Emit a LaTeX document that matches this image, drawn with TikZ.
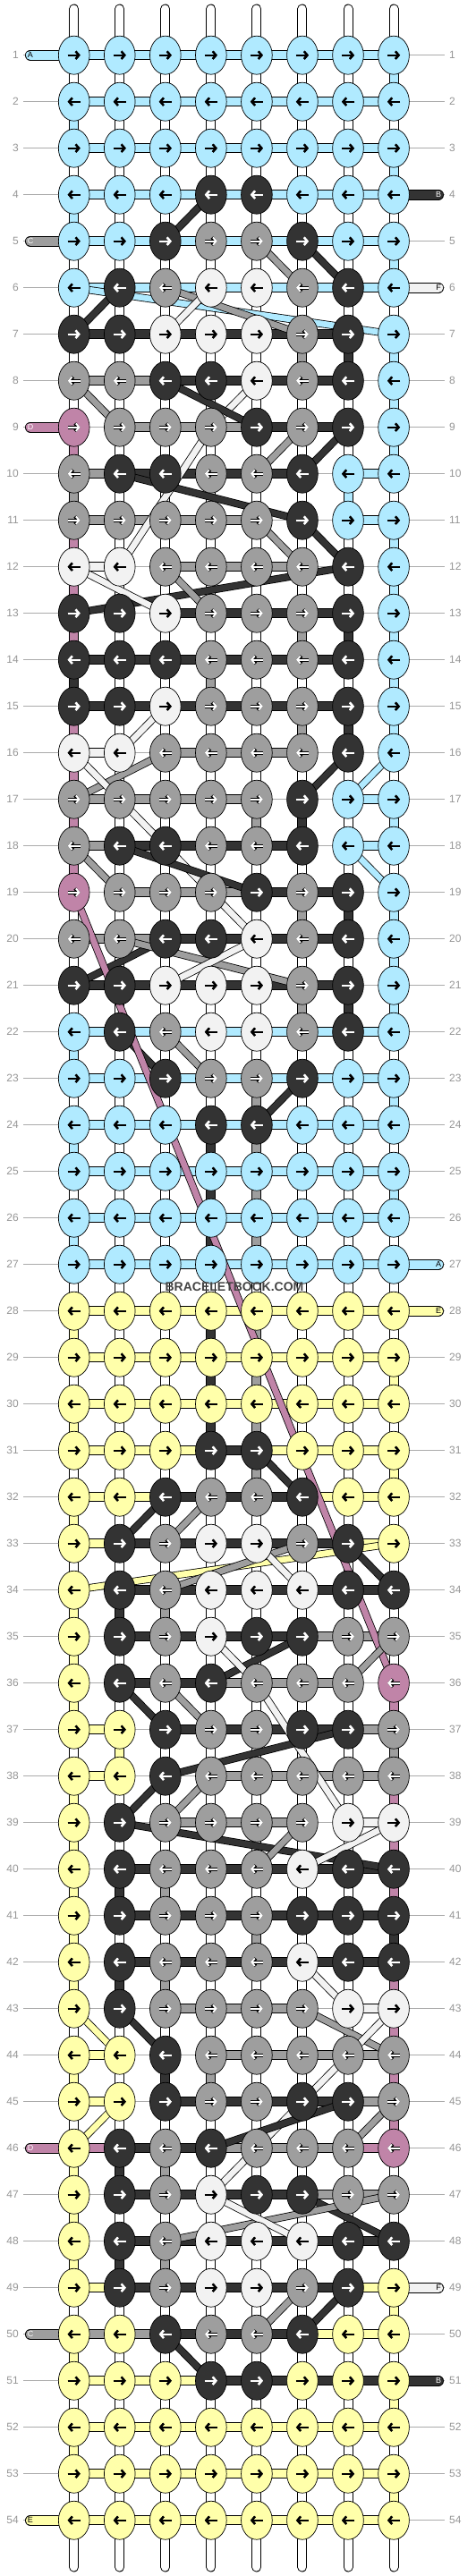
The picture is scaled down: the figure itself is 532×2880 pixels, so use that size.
\documentclass[tikz,border=0pt]{standalone}
\usepackage{fontspec}
\setmainfont{Liberation Sans}
\usetikzlibrary{shapes.geometric,arrows.meta}
\definecolor{cL}{RGB}{176,234,255}
\definecolor{cD}{RGB}{51,51,51}
\definecolor{cG}{RGB}{158,158,158}
\definecolor{cW}{RGB}{242,242,242}
\definecolor{cP}{RGB}{192,132,168}
\definecolor{cY}{RGB}{255,255,170}
\definecolor{lbl}{RGB}{150,150,150}
\definecolor{wmark}{RGB}{68,68,68}
\pgfdeclarelayer{bg}\pgfdeclarelayer{strands}
\pgfsetlayers{bg,strands,main}
\tikzset{
 knot/.style={ellipse, draw=black, line width=0.7pt, minimum width=34.7pt, minimum height=43pt, inner sep=0pt},
 arr/.style={-{Straight Barb[length=3.6pt,width=8.5pt]}},
 auL/.style={black,line width=2.3pt}, atL/.style={black,line width=2.3pt},
 auW/.style={black,line width=2.3pt}, atW/.style={black,line width=2.3pt},
 auY/.style={black,line width=2.3pt}, atY/.style={black,line width=2.3pt},
 auD/.style={white,line width=2.3pt}, atD/.style={white,line width=2.3pt},
 auG/.style={black,line width=3.6pt}, atG/.style={white,line width=1.9pt},
 auP/.style={black,line width=3.6pt}, atP/.style={white,line width=1.9pt},
 rowno/.style={text=lbl, font=\fontsize{12}{12}\selectfont, inner sep=0pt},
 endtxt/.style={font=\fontsize{9}{9}\selectfont, inner sep=0pt},
}
\newcommand\krow[2]{%
 \foreach \c [count=\i] in {#2}{%
  \pgfmathsetmacro\xx{82.7+51.05*(\i-1)}%
  \pgfmathsetmacro\yy{61.7+52*(#1-1)}%
  \node[knot,fill=c\c] (k-#1-\i) at (\xx,\yy) {};
  \ifodd#1\relax
   \draw[arr,au\c] ([xshift=-7pt]k-#1-\i.center) -- ([xshift=7pt]k-#1-\i.center);
   \draw[arr,at\c] ([xshift=-7pt]k-#1-\i.center) -- ([xshift=7pt]k-#1-\i.center);
  \else
   \draw[arr,au\c] ([xshift=7pt]k-#1-\i.center) -- ([xshift=-7pt]k-#1-\i.center);
   \draw[arr,at\c] ([xshift=7pt]k-#1-\i.center) -- ([xshift=-7pt]k-#1-\i.center);
  \fi
 }}
\newcommand\brow[2]{%
 \foreach \c [count=\i] in {#2}{%
  \if N\c\else
   \pgfmathtruncatemacro\j{\i+1}%
   \draw[line width=11pt,black] (k-#1-\i.center) -- (k-#1-\j.center);
   \draw[line width=9pt,c\c] (k-#1-\i.center) -- (k-#1-\j.center);
  \fi}}
\newcommand\tailleft[4]{%
 \pgfmathsetmacro\yy{61.7+52*(#1-1)}%
 \coordinate (eL-#1) at (34,\yy);
 \draw[line width=12pt,black,line cap=round] (eL-#1) -- (k-#1-1.center);
 \draw[line width=10.4pt,c#2,line cap=round] (eL-#1) -- (k-#1-1.center);
 \node[endtxt,text=#4] (eLt-#1) at (eL-#1) {#3};}
\newcommand\tailright[4]{%
 \pgfmathsetmacro\yy{61.7+52*(#1-1)}%
 \coordinate (eR-#1) at (490,\yy);
 \draw[line width=12pt,black,line cap=round] (eR-#1) -- (k-#1-8.center);
 \draw[line width=10.4pt,c#2,line cap=round] (eR-#1) -- (k-#1-8.center);
 \node[endtxt,text=#4] (eRt-#1) at (eR-#1) {#3};}
\begin{document}
\begin{tikzpicture}[x=1pt,y=-1pt]
\useasboundingbox (0,0) rectangle (532,2880);
\begin{pgfonlayer}{bg}
\fill[white] (0,0) rectangle (532,2880);
\foreach \r in {1,...,54}{%
 \pgfmathsetmacro\yy{61.7+52*(\r-1)}%
 \coordinate (gl-\r) at (26,\yy);
 \coordinate (gr-\r) at (497,\yy);
 \draw[lbl!80,line width=0.6pt] (gl-\r) -- (gr-\r);
 \node[rowno,anchor=east] (nl-\r) at (21,\yy) {\r};
 \node[rowno,anchor=west] (nr-\r) at (502,\yy) {\r};
}
\end{pgfonlayer}
% knots
\foreach \r in {1,2,3}{\krow{\r}{L,L,L,L,L,L,L,L}}
\krow{4}{L,L,L,D,D,L,L,L}
\krow{5}{L,L,D,G,G,D,L,L}
\krow{6}{L,D,G,W,W,G,D,L}
\krow{7}{D,D,W,W,W,G,D,L}
\krow{8}{G,G,D,D,W,G,D,L}
\krow{9}{P,G,G,G,D,G,D,L}
\krow{10}{G,D,D,G,G,D,L,L}
\krow{11}{G,G,G,G,G,D,L,L}
\krow{12}{W,W,G,G,G,G,D,L}
\krow{13}{D,D,W,G,G,G,D,L}
\krow{14}{D,D,D,G,G,G,D,L}
\krow{15}{D,D,W,G,G,G,D,L}
\krow{16}{W,W,G,G,G,G,D,L}
\krow{17}{G,G,G,G,G,D,L,L}
\krow{18}{G,D,D,G,G,D,L,L}
\krow{19}{P,G,G,G,D,G,D,L}
\krow{20}{G,G,D,D,W,G,D,L}
\krow{21}{D,D,W,W,W,G,D,L}
\krow{22}{L,D,G,W,W,G,D,L}
\krow{23}{L,L,D,G,G,D,L,L}
\krow{24}{L,L,L,D,D,L,L,L}
\foreach \r in {25,26,27}{\krow{\r}{L,L,L,L,L,L,L,L}}
\foreach \r in {28,29,30}{\krow{\r}{Y,Y,Y,Y,Y,Y,Y,Y}}
\krow{31}{Y,Y,Y,D,D,Y,Y,Y}
\krow{32}{Y,Y,D,G,G,D,Y,Y}
\krow{33}{Y,D,G,W,W,G,D,Y}
\krow{34}{Y,D,G,W,W,W,D,D}
\krow{35}{Y,D,G,W,D,D,G,G}
\krow{36}{Y,D,G,D,G,G,G,P}
\krow{37}{Y,Y,D,G,G,D,D,G}
\krow{38}{Y,Y,D,G,G,G,G,G}
\krow{39}{Y,D,G,G,G,G,W,W}
\krow{40}{Y,D,G,G,G,W,D,D}
\krow{41}{Y,D,G,G,G,D,D,D}
\krow{42}{Y,D,G,G,G,W,D,D}
\krow{43}{Y,D,G,G,G,G,W,W}
\krow{44}{Y,Y,D,G,G,G,G,G}
\krow{45}{Y,Y,D,G,G,D,D,G}
\krow{46}{Y,D,G,D,G,G,G,P}
\krow{47}{Y,D,G,W,D,D,G,G}
\krow{48}{Y,D,G,W,W,W,D,D}
\krow{49}{Y,D,G,W,W,G,D,Y}
\krow{50}{Y,Y,D,G,G,D,Y,Y}
\krow{51}{Y,Y,Y,D,D,Y,Y,Y}
\foreach \r in {52,53,54}{\krow{\r}{Y,Y,Y,Y,Y,Y,Y,Y}}
\node[font=\bfseries\fontsize{14}{14}\selectfont, text=wmark, inner sep=0pt] (wm) at (262,1439) {BRACELETBOOK.COM};
\begin{pgfonlayer}{strands}
% top and bottom strands
\foreach \c in {1,...,8}{%
 \pgfmathsetmacro\xx{82.7+51.05*(\c-1)}%
 \coordinate (top-\c) at (\xx,10);
 \coordinate (bot-\c) at (\xx,2870);
 \draw[line width=11pt,black,line cap=round] (top-\c) -- (k-1-\c.center);
 \draw[line width=9pt,white,line cap=round] (top-\c) -- (k-1-\c.center);
 \draw[line width=11pt,black,line cap=round] (bot-\c) -- (k-54-\c.center);
 \draw[line width=9pt,white,line cap=round] (bot-\c) -- (k-54-\c.center);
}
% default vertical strands
\foreach \r in {1,...,53}{%
 \pgfmathtruncatemacro\rr{\r+1}%
 \foreach \c in {1,...,8}{%
  \draw[line width=11pt,black] (k-\r-\c.center) -- (k-\rr-\c.center);
  \draw[line width=9pt,white] (k-\r-\c.center) -- (k-\rr-\c.center);
 }}
% coloured vertical segments
\foreach \r/\c/\col in {1/8/L,2/1/L,3/8/L,4/1/L,5/8/L,7/6/G,7/7/D,7/8/L,8/8/L,9/1/P,9/8/L,10/1/G,10/7/L,11/1/P,11/8/L,12/1/P,12/8/L,
 13/1/P,13/6/G,13/7/D,13/8/L,14/1/D,14/4/G,14/8/L,15/1/P,15/6/G,15/7/D,15/8/L,16/1/P,
 17/1/P,17/5/G,17/6/D,17/8/L,18/1/P,19/6/G,19/7/D,19/8/L,20/8/L,21/6/G,21/7/D,21/8/L,
 22/1/L,23/5/G,23/8/L,24/1/L,24/4/D,24/5/G,25/4/D,25/5/G,25/8/L,26/1/L,26/4/D,26/5/G,
 28/1/Y,28/4/D,28/5/G,29/4/D,29/5/G,29/8/Y,30/1/Y,30/4/D,30/5/G,31/5/G,31/8/Y,32/1/Y,
 34/1/Y,34/2/D,34/3/G,35/1/Y,36/1/Y,36/8/P,37/2/Y,37/8/G,38/1/Y,38/8/P,
 39/1/Y,39/8/P,40/1/Y,40/2/D,40/3/G,40/8/P,41/1/Y,41/5/G,41/8/D,42/1/Y,42/2/D,42/3/G,42/8/P,43/8/P,44/1/Y,44/3/D,44/4/G,44/8/P,
 45/8/P,46/1/Y,46/2/D,46/3/G,47/1/Y,48/1/Y,48/2/D,48/3/G,49/8/Y,50/1/Y,51/8/Y,52/1/Y,53/8/Y}{%
 \pgfmathtruncatemacro\rr{\r+1}%
 \draw[line width=11pt,black] (k-\r-\c.center) -- (k-\rr-\c.center);
 \draw[line width=9pt,c\col] (k-\r-\c.center) -- (k-\rr-\c.center);
}
% horizontal bars
\foreach \r in {1,...,6}{\brow{\r}{L,L,L,L,L,L,L}}
\brow{7}{D,D,D,D,D,D,N}
\brow{8}{G,G,D,D,D,D,N}
\brow{9}{N,G,G,G,D,D,N}
\brow{10}{G,D,D,D,D,N,L}
\brow{11}{G,G,G,G,N,N,L}
\brow{12}{W,N,G,G,G,N,N}
\brow{13}{N,N,D,D,D,D,N}
\brow{14}{D,D,D,D,D,D,N}
\brow{15}{D,D,D,D,D,D,N}
\brow{16}{W,N,G,G,G,N,N}
\brow{17}{G,G,G,G,N,N,L}
\brow{18}{G,D,D,D,D,N,L}
\brow{19}{N,G,G,G,D,D,N}
\brow{20}{G,G,D,D,D,D,N}
\brow{21}{D,D,D,D,D,D,N}
\foreach \r in {22,...,27}{\brow{\r}{L,L,L,L,L,L,L}}
\foreach \r in {28,29,30}{\brow{\r}{Y,Y,Y,Y,Y,Y,Y}}
\brow{31}{Y,Y,Y,D,Y,Y,Y}
\brow{32}{Y,Y,D,D,D,Y,Y}
\brow{33}{Y,D,D,D,D,D,Y}
\brow{34}{N,D,D,D,D,D,D}
\brow{35}{N,D,D,D,D,G,G}
\brow{36}{N,D,D,G,G,G,N}
\brow{37}{Y,N,D,D,D,D,G}
\brow{38}{Y,N,N,G,G,G,G}
\brow{39}{N,N,G,G,G,N,W}
\brow{40}{N,D,D,D,D,D,D}
\brow{41}{N,D,D,D,D,D,D}
\brow{42}{N,D,D,D,D,D,D}
\brow{43}{N,N,G,G,G,N,W}
\brow{44}{Y,N,N,G,G,G,G}
\brow{45}{Y,N,D,D,D,D,G}
\brow{46}{P,D,D,G,G,G,P}
\brow{47}{N,D,D,D,D,G,G}
\brow{48}{N,D,D,D,D,D,D}
\brow{49}{Y,D,D,D,D,D,Y}
\brow{50}{G,G,D,D,D,Y,Y}
\brow{51}{Y,Y,Y,D,D,D,D}
\foreach \r in {52,53,54}{\brow{\r}{Y,Y,Y,Y,Y,Y,Y}}
% diagonal strands
\foreach \col/\ra/\ca/\rb/\cb in {D/4/4/5/3,G/5/5/6/6,D/5/6/6/7,D/6/2/7/1,L/6/1/7/8,G/6/3/7/6,W/6/4/7/3,
 W/8/5/9/4,D/8/3/9/5,G/8/1/9/2,G/9/6/10/5,D/9/7/10/6,W/9/4/12/2,D/10/2/11/6,G/11/5/12/6,D/11/6/12/7,
 D/12/7/13/1,W/12/1/13/3,G/12/3/13/4,W/15/3/16/2,G/16/3/17/1,W/16/1/17/2,D/16/7/17/6,L/16/8/17/7,
 W/17/2/18/3,W/18/3/20/5,D/18/2/19/5,G/18/1/19/2,L/18/7/19/8,D/20/3/21/1,G/20/2/21/6,W/20/5/21/3,
 D/22/2/23/3,G/22/3/23/4,D/23/6/24/5,P/19/1/36/8,
 D/31/5/32/6,D/32/3/33/2,G/32/4/33/3,D/33/7/34/8,Y/33/8/34/1,G/33/6/34/3,W/33/5/34/6,
 D/35/6/36/4,W/35/4/36/5,G/35/8/36/7,D/36/2/37/3,G/36/3/37/4,W/36/5/39/7,D/37/7/38/3,
 D/38/3/39/2,G/38/4/39/3,D/39/2/40/8,G/39/6/40/5,W/39/8/40/6,W/42/6/43/7,Y/43/1/44/2,
 D/43/2/44/3,G/43/6/44/8,W/43/8/44/7,W/44/7/47/4,Y/45/2/46/1,D/45/7/46/4,G/45/8/46/7,
 D/47/6/48/8,G/47/8/48/3,W/47/4/48/6,G/49/6/50/5,D/49/7/50/6,D/50/3/51/4}{%
 \draw[line width=8.4pt,black] (k-\ra-\ca.center) -- (k-\rb-\cb.center);
 \draw[line width=6.8pt,c\col] (k-\ra-\ca.center) -- (k-\rb-\cb.center);
}
% strand ends
\tailleft{1}{L}{A}{black}
\tailleft{5}{G}{C}{white}
\tailleft{9}{P}{D}{white}
\tailleft{46}{P}{D}{white}
\tailleft{50}{G}{C}{white}
\tailleft{54}{Y}{E}{black}
\tailright{4}{D}{B}{white}
\tailright{6}{W}{F}{black}
\tailright{27}{L}{A}{black}
\tailright{28}{Y}{E}{black}
\tailright{49}{W}{F}{black}
\tailright{51}{D}{B}{white}
\end{pgfonlayer}
\end{tikzpicture}
\end{document}
